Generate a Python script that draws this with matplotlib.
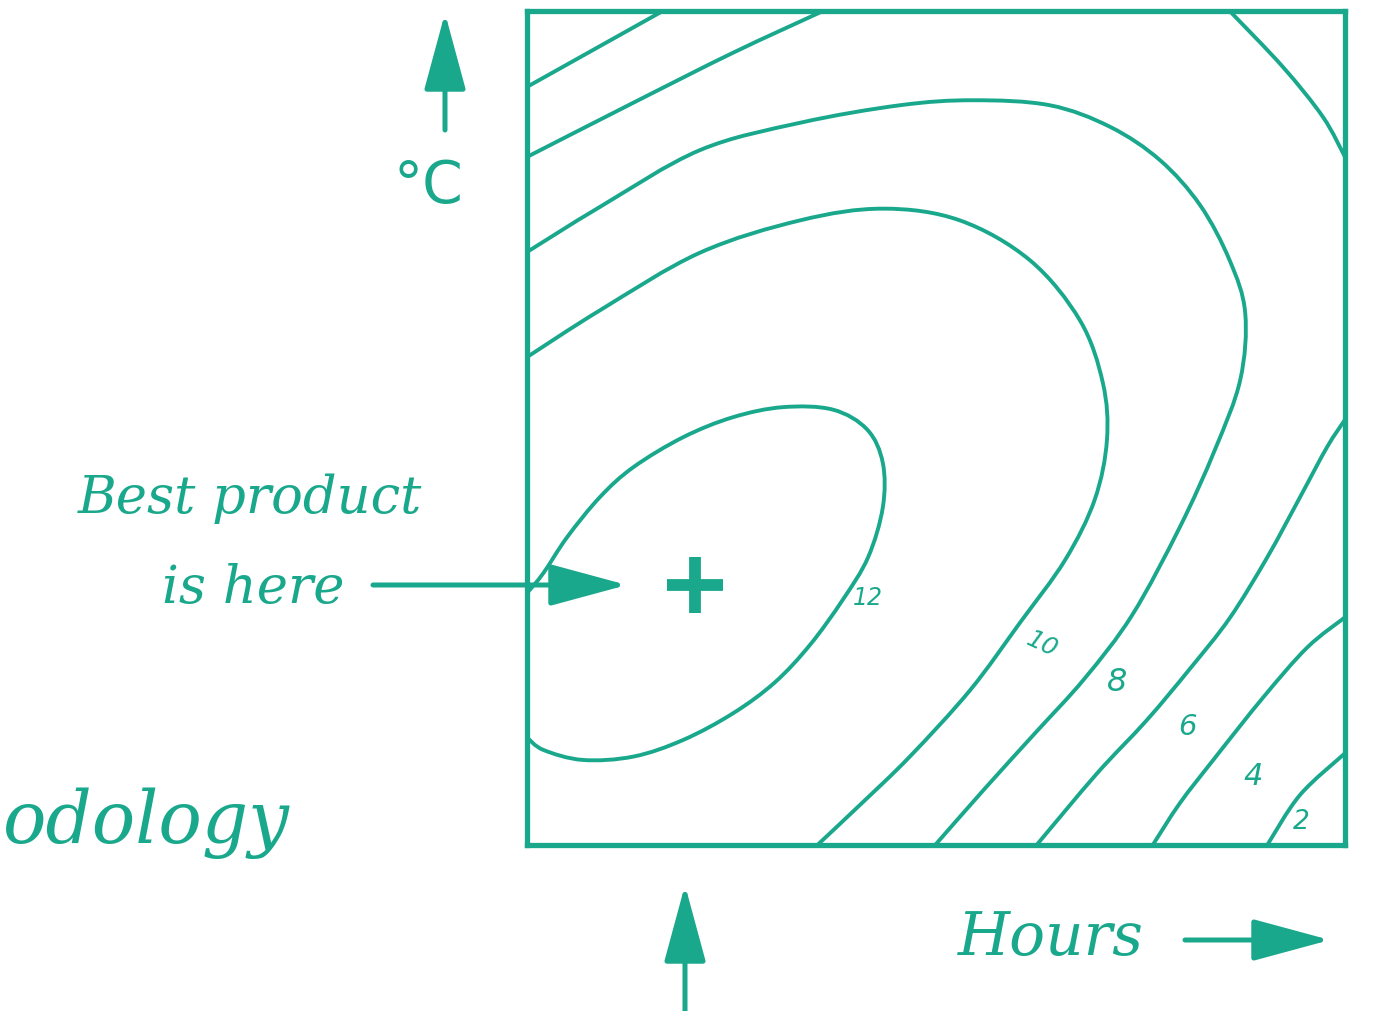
import numpy as np
import matplotlib
matplotlib.use("Agg")
import matplotlib.pyplot as plt
from matplotlib.path import Path
from matplotlib.patches import PathPatch, FancyArrowPatch

# ---------------- data (Hours and °C on a 0-100 scale) -------------
c4_top_x = [0, 16.6]
c4_top_y = [90.9, 100]
c6_top_x = [0, 13.0, 25.2, 36.2]
c6_top_y = [82.5, 89.0, 95.0, 100]
c6_corner_x = [85.9, 92.4, 97.3, 100]
c6_corner_y = [100, 93.3, 87.3, 82.5]
c8_x = [0, 8.9, 21.1, 33.4, 45.6, 54.5, 63.9, 71.3, 77.4, 82.3, 85.9, 87.8, 87.2,
        84.1, 79.8, 74.0, 68.2, 62.1, 56.0, 49.9]
c8_y = [71.1, 76.5, 83.3, 86.6, 88.7, 89.3, 88.7, 86.1, 82.1, 76.7, 70.1, 63.8, 55.8,
        47.4, 38.1, 27.6, 20.0, 13.4, 6.8, 0]
c10_x = [0, 8.9, 21.1, 33.4, 43.5, 52.9, 61.5, 67.6, 70.4, 70.9, 69.4, 65.8, 60.3,
         54.2, 46.8, 40.7, 35.5]
c10_y = [58.5, 64.1, 71.0, 74.9, 76.3, 74.9, 70.1, 62.9, 55.4, 48.6, 41.4, 34.2, 26.7,
         18.6, 10.6, 4.8, 0]
c12_x = [0, 2.0, 4.9, 8.9, 13.0, 19.1, 25.2, 31.3, 37.4, 41.6, 43.5, 43.5, 41.7,
         38.6, 34.6, 30.3, 25.2, 19.1, 13.0, 6.8, 2.0, 0]
c12_y = [30.2, 32.6, 36.9, 41.7, 45.3, 48.9, 51.3, 52.5, 52.2, 49.8, 45.8, 40.5, 34.5,
         29.4, 24.0, 19.5, 15.8, 12.6, 10.6, 10.2, 11.4, 12.9]
c6_right_x = [100, 97.8, 94.5, 90.5, 85.9, 81.1, 75.8, 69.7, 62.3]
c6_right_y = [51.0, 47.7, 41.7, 34.5, 27.2, 21.2, 15.0, 8.6, 0]
c4_right_x = [100, 95.4, 90.0, 83.9, 79.8, 76.5]
c4_right_y = [27.3, 23.7, 17.7, 10.2, 5.0, 0]
c2_x = [100, 94.5, 90.5]
c2_y = [11.0, 6.0, 0]

label_text = ["12", "10", "8", "6", "4", "2"]
label_x = [41.7, 63.0, 72.2, 80.7, 88.8, 94.7]
label_y = [29.6, 24.0, 19.5, 14.1, 8.2, 2.8]

optimum_x = [20.5]
optimum_y = [31.2]

# ---------------- style ----------------
TEAL = "#1aa88c"
W, H = 1374, 1011

fig = plt.figure(figsize=(W / 100, H / 100), dpi=100)
fig.patch.set_facecolor("white")


def fx(px):
    return px / W


def fy(py):
    return 1 - py / H


ax = fig.add_axes([fx(527), fy(845), fx(1345) - fx(527), fy(11) - fy(845)])
ax.set_xlim(0, 100)
ax.set_ylim(0, 100)
ax.set_xticks([])
ax.set_yticks([])
for s in ax.spines.values():
    s.set_color(TEAL)
    s.set_linewidth(3.8)
    s.set_zorder(5)


def smooth_path(xs, ys):
    pts = np.column_stack([xs, ys]).astype(float)
    n = len(pts)
    verts = [pts[0]]
    codes = [Path.MOVETO]
    for i in range(n - 1):
        p0 = pts[i - 1] if i > 0 else pts[i]
        p1 = pts[i]
        p2 = pts[i + 1]
        p3 = pts[i + 2] if i + 2 < n else pts[i + 1]
        verts += [p1 + (p2 - p0) / 6, p2 - (p3 - p1) / 6, p2]
        codes += [Path.CURVE4] * 3
    return Path(verts, codes)


curves = [(c4_top_x, c4_top_y), (c6_top_x, c6_top_y), (c6_corner_x, c6_corner_y),
          (c8_x, c8_y), (c10_x, c10_y), (c12_x, c12_y), (c6_right_x, c6_right_y),
          (c4_right_x, c4_right_y), (c2_x, c2_y)]
for xs, ys in curves:
    ax.add_patch(PathPatch(smooth_path(xs, ys), facecolor="none", edgecolor=TEAL,
                           lw=2.8, capstyle="round", joinstyle="round"))

label_size = [17, 18, 23, 21, 22, 19]
label_rot = [0, -25, 0, 0, 0, 0]
for t, x, y, s, r in zip(label_text, label_x, label_y, label_size, label_rot):
    ax.text(x, y, t, color=TEAL, fontsize=s, rotation=r, ha="center", va="center",
            style="italic", family="DejaVu Sans")

ax.plot(optimum_x, optimum_y, marker="+", markersize=40, markeredgewidth=8.5,
        color=TEAL, linestyle="none")


def arrow(p0, p1):
    a = FancyArrowPatch((fx(p0[0]), fy(p0[1])), (fx(p1[0]), fy(p1[1])),
                        transform=fig.transFigure,
                        arrowstyle="-|>,head_length=0.48,head_width=0.13",
                        mutation_scale=100, lw=3.6, color=TEAL, shrinkA=0, shrinkB=0)
    fig.add_artist(a)


arrow((373, 585), (627, 585))    # best product arrow
arrow((445, 130), (445, 13))     # °C arrow
arrow((685, 1015), (685, 885))   # bottom arrow
arrow((1185, 940), (1330, 940))  # Hours arrow

serif = "DejaVu Serif"
fig.text(fx(250), fy(513), "Best product", color=TEAL, fontsize=38, style="italic",
         family=serif, ha="center", va="baseline")
fig.text(fx(345), fy(603), "is here", color=TEAL, fontsize=38, style="italic",
         family=serif, ha="right", va="baseline")
fig.text(fx(958), fy(955), "Hours", color=TEAL, fontsize=43, style="italic",
         family=serif, ha="left", va="baseline")
fig.text(fx(428), fy(203), "°C", color=TEAL, fontsize=42, family="DejaVu Sans",
         ha="center", va="baseline")
fig.text(fx(290), fy(843), "odology", color=TEAL, fontsize=52, style="italic",
         family=serif, ha="right", va="baseline")

fig.savefig("out.png", dpi=100, facecolor="white")
